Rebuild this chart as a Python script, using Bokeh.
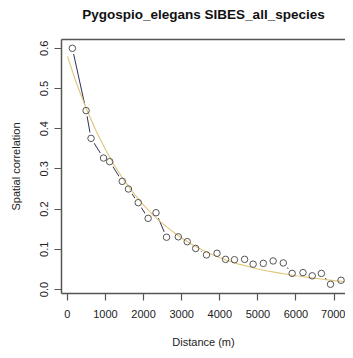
from bokeh.plotting import figure
from bokeh.models import LinearAxis, Range1d, FixedTicker
from bokeh.embed import file_html
from bokeh.resources import INLINE

# Observed spatial correlation by distance class
distance = [130, 490, 620, 948, 1111, 1439, 1602, 1860, 2119, 2326, 2602, 2912,
            3145, 3367, 3651, 3928, 4152, 4385, 4651, 4875, 5142, 5400, 5667,
            5900, 6184, 6426, 6667, 6907, 7183]
correlation = [0.600, 0.445, 0.376, 0.327, 0.318, 0.269, 0.250, 0.216, 0.177,
               0.191, 0.130, 0.131, 0.119, 0.102, 0.086, 0.090, 0.075, 0.074,
               0.075, 0.063, 0.065, 0.071, 0.066, 0.040, 0.042, 0.034, 0.040,
               0.013, 0.023]

# Fitted curve
fit_distance = [0, 250, 500, 750, 1000, 1250, 1500, 1750, 2000, 2250, 2500, 2750,
                3000, 3250, 3500, 3750, 4000, 4250, 4500, 4750, 5000, 5250, 5500,
                5750, 6000, 6250, 6500, 6750, 7000, 7250, 7500]
fit_value = [0.580, 0.510, 0.449, 0.395, 0.348, 0.306, 0.270, 0.238, 0.210, 0.185,
             0.164, 0.145, 0.128, 0.113, 0.100, 0.089, 0.079, 0.071, 0.063, 0.057,
             0.051, 0.046, 0.042, 0.038, 0.034, 0.031, 0.028, 0.025, 0.022, 0.020,
             0.018]

x_ticks = [0, 1000, 2000, 3000, 4000, 5000, 6000, 7000]
y_ticks = [0.0, 0.1, 0.2, 0.3, 0.4, 0.5, 0.6]

title_text = "Pygospio_elegans SIBES_all_species"
x_title = "Distance (m)"
y_title = "Spatial correlation"

FONT = "Liberation Sans"
AX = "#555555"
TXT = "#222222"

p = figure(width=345, height=350, output_backend="svg", toolbar_location=None,
           x_range=Range1d(-155, 7300), y_range=Range1d(-0.0100, 0.6219),
           min_border_left=61, min_border_right=0, min_border_top=39,
           min_border_bottom=57, x_axis_location=None, y_axis_location=None)
p.outline_line_color = None
p.xgrid.visible = False
p.ygrid.visible = False
p.background_fill_color = "white"
p.border_fill_color = "white"

xa = LinearAxis(ticker=FixedTicker(ticks=x_ticks), axis_label=x_title)
ya = LinearAxis(ticker=FixedTicker(ticks=y_ticks), axis_label=y_title)
ya.major_label_overrides = {v: f"{v:.1f}" for v in y_ticks}
ya.major_label_orientation = "vertical"
for ax in (xa, ya):
    ax.axis_line_color = AX
    ax.axis_line_width = 1.5
    ax.major_tick_line_color = AX
    ax.major_tick_line_width = 1.2
    ax.major_tick_out = 7
    ax.major_tick_in = 0
    ax.minor_tick_line_color = None
    ax.major_label_text_font = FONT
    ax.major_label_text_font_size = "11px"
    ax.major_label_text_color = TXT
    ax.axis_label_text_font = FONT
    ax.axis_label_text_font_size = "11px"
    ax.axis_label_text_font_style = "normal"
    ax.axis_label_text_color = TXT
xa.major_label_standoff = 9
xa.axis_label_standoff = 15
ya.major_label_standoff = 6
ya.axis_label_standoff = 16
p.add_layout(xa, "below")
p.add_layout(ya, "left")

# top side of the box, carrying the chart title
top = LinearAxis(ticker=FixedTicker(ticks=[]), axis_label=title_text)
top.axis_line_color = AX
top.axis_line_width = 1.5
top.major_tick_line_color = None
top.minor_tick_line_color = None
top.major_tick_out = 0
top.major_tick_in = 0
top.major_label_standoff = 0
top.major_label_text_font_size = "0px"
top.axis_label_standoff = 18
top.axis_label_text_font = FONT
top.axis_label_text_font_size = "13.5px"
top.axis_label_text_font_style = "bold"
top.axis_label_text_color = "#111111"
p.add_layout(top, "above")

# dark connecting line with gaps around points (R type = "b")
p.line(distance, correlation, line_color="#2e2e55", line_width=1)
p.scatter(distance, correlation, size=12, fill_color="white", line_color=None)
# fitted curve
p.line(fit_distance, fit_value, line_color="#e0c478", line_width=1.1)
# points
p.scatter(distance, correlation, marker="circle", size=6.5, fill_color=None,
          line_color="#555555", line_width=1)

open("out.html", "w").write(file_html(p, INLINE))
